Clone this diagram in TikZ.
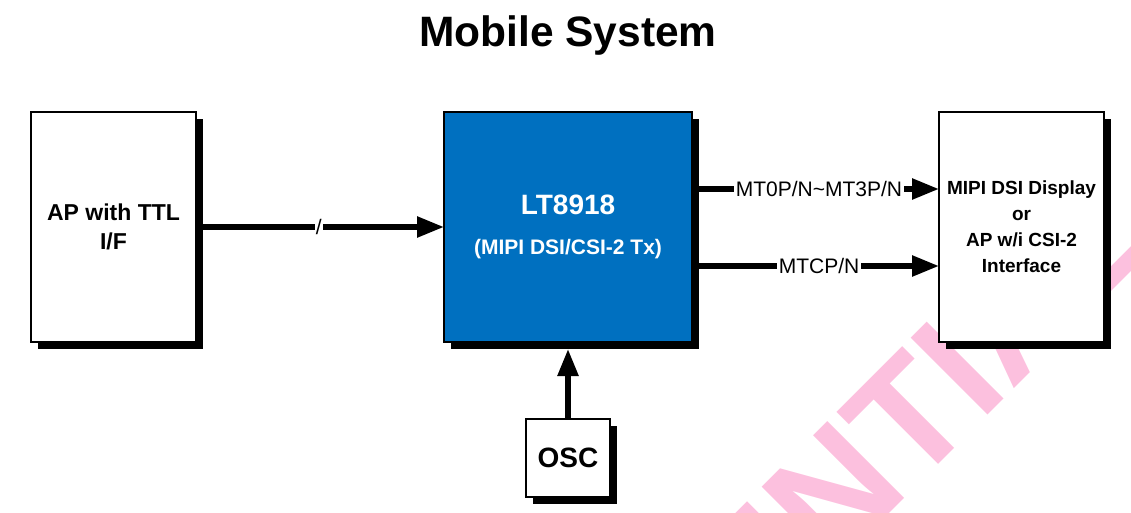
\documentclass[tikz,border=0pt]{standalone}
\usepackage{fontspec}
\setmainfont{Liberation Sans}
\usetikzlibrary{arrows.meta,shadows}

\definecolor{ltblue}{RGB}{0,112,192}
\definecolor{wmpink}{RGB}{252,192,222}

\begin{document}
\begin{tikzpicture}[x=1pt,y=-1pt,
		box/.style={draw=black,line width=1.5pt,fill=white,outer sep=0pt,inner sep=0pt,align=center,
			drop shadow={shadow xshift=7pt,shadow yshift=-7pt,fill=black,opacity=1}},
		sig/.style={line width=5.5pt,-{Triangle[length=27pt,width=20pt]}},
		siglabel/.style={fill=white,inner sep=1.5pt,font=\fontsize{21}{25}\selectfont}]
			%%%%% START %%%%%
			
			\useasboundingbox (0,0) rectangle (1131,513);
			
			\node[rotate=45, text=wmpink, font=\bfseries\fontsize{158}{158}\selectfont] (wm) at (706,620) {CONFIDENTIAL};
			
			\node[anchor=base, font=\bfseries\fontsize{42.5}{50}\selectfont] (title) at (568,47) {Mobile System};
			
			\node[box, minimum width=165, minimum height=230, font=\bfseries\fontsize{23}{29}\selectfont] (ap) at (113.5,227) {AP with TTL\\I/F};
			\node[box, fill=ltblue, text=white, minimum width=248, minimum height=230, font=\bfseries\fontsize{21}{40}\selectfont] (lt) at (568,227) {{\fontsize{28}{40}\selectfont LT8918}\\(MIPI DSI/CSI-2 Tx)};
			\node[box, minimum width=165, minimum height=230, font=\bfseries\fontsize{19}{26}\selectfont] (disp) at (1021.5,227) {MIPI DSI Display\\or\\AP w/i CSI-2\\Interface};
			\node[box, minimum width=84, minimum height=78, font=\bfseries\fontsize{28}{34}\selectfont] (osc) at (568,458) {OSC};
			
			\coordinate (apout) at ([xshift=7pt]ap.east);
			\coordinate (mtd) at ([xshift=7pt,yshift=38pt]lt.east);
			\coordinate (mtc) at ([xshift=7pt,yshift=-39pt]lt.east);
			\coordinate (ltin) at ([yshift=-7pt]lt.south);
			
			\draw[sig] (apout) -- (apout -| lt.west) node[pos=0.48, fill=white, inner sep=1pt, font=\fontsize{21}{24}\selectfont] (bus) {/};
			\draw[sig] (mtd) -- (mtd -| disp.west) node[siglabel, midway] (mtdlab) {MT0P/N\textasciitilde MT3P/N};
			\draw[sig] (mtc) -- (mtc -| disp.west) node[siglabel, midway] (mtclab) {MTCP/N};
			\draw[sig] (osc.north) -- (ltin);
			
			%%%%% END %%%%%
		\end{tikzpicture}
\end{document}
